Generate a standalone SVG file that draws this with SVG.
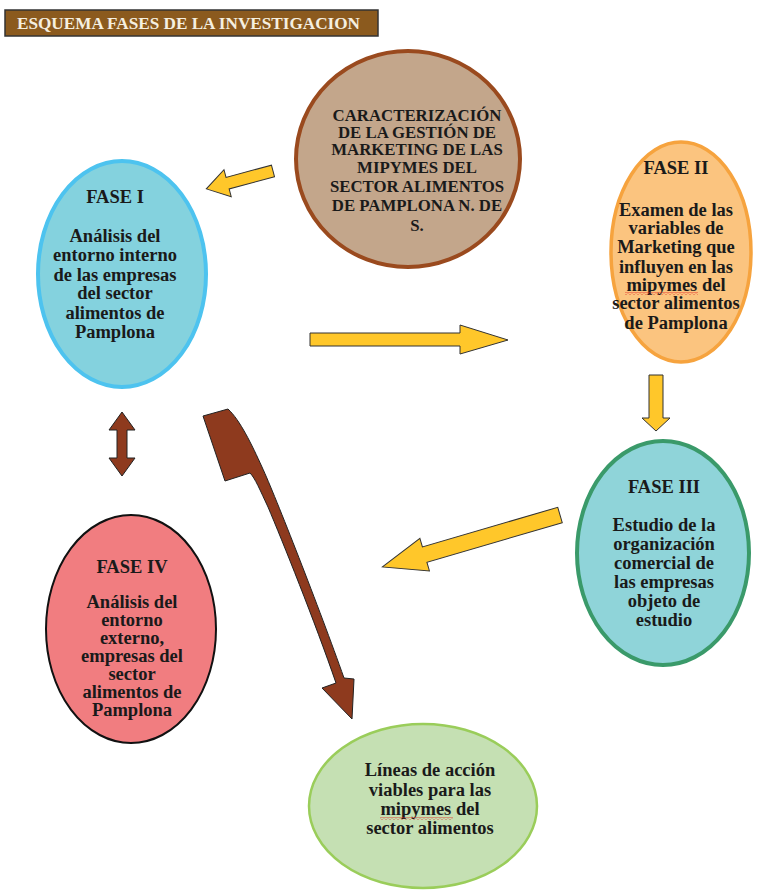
<svg xmlns="http://www.w3.org/2000/svg" width="765" height="890" viewBox="0 0 765 890">
<style>
.t{font-family:"Liberation Serif","Times New Roman",serif;font-weight:bold;font-size:18.5px;fill:#1a1a1a;text-anchor:middle}
.c{font-size:16.8px}
.y{fill:#FFC72A;stroke:#333;stroke-width:1}
.b{fill:#8E3A1E;stroke:#222;stroke-width:1}
</style>
<defs>
<pattern id="squig" width="4" height="3" patternUnits="userSpaceOnUse">
<path d="M0,2.5 L2,0.5 L4,2.5" fill="none" stroke="#E02020" stroke-width="0.8"/>
</pattern>
</defs>
<rect width="765" height="890" fill="#fff"/>
<g id="title">
<rect x="5" y="10" width="373" height="26" fill="#8B5A1E" stroke="#333" stroke-width="1.5"/>
<text x="17" y="29" font-family="Liberation Serif,serif" font-weight="bold" font-size="16" fill="#F5EFE0" textLength="343" lengthAdjust="spacingAndGlyphs">ESQUEMA FASES DE LA INVESTIGACION</text>
</g>
<g id="connectors">
<polygon class="y" points="0,-6 47,-6 47,-14 69,0 47,14 47,6 0,6" transform="translate(273,171) rotate(165)"/>
<polygon class="y" points="310,333 460,333 460,325 508,340 460,354 460,346 310,346"/>
<polygon class="y" points="649,375 663,375 663,418 670,418 656,431 642,418 649,418"/>
<polygon class="y" points="0,-8 141,-8 141,-17 185,0 141,17 141,8 0,8" transform="translate(560,515) rotate(163.7)"/>
<polygon class="b" points="122,412 135,430 127,430 127,458 135,458 122,476 109,458 117,458 117,430 109,430"/>
<path class="b" d="M203,416 L228,409 C240,420 252,445 262,467 C275,495 320,610 344,678 L354,679 L352,719 L322,688 L336,683 C315,622 282,540 268,507 C260,490 255,478 250,473 L225,481 Z"/>
</g>
<g id="center">
<ellipse cx="408" cy="159" rx="112" ry="108" fill="#C3A68B" stroke="#9A4A1E" stroke-width="4"/>
<text class="t c"><tspan x="417" y="121">CARACTERIZACIÓN</tspan><tspan x="417" y="138">DE LA GESTIÓN DE</tspan><tspan x="417" y="155">MARKETING DE LAS</tspan><tspan x="417" y="173">MIPYMES DEL</tspan><tspan x="417" y="192">SECTOR ALIMENTOS</tspan><tspan x="417" y="211">DE PAMPLONA N. DE</tspan><tspan x="417" y="231">S.</tspan></text>
</g>
<g id="fase1">
<ellipse cx="122" cy="274" rx="84" ry="113" fill="#84D2DE" stroke="#4DC3EF" stroke-width="4"/>
<text class="t"><tspan x="115" y="203">FASE I</tspan><tspan x="115" y="242">Análisis del</tspan><tspan x="115" y="261">entorno interno</tspan><tspan x="115" y="281">de las empresas</tspan><tspan x="115" y="299">del sector</tspan><tspan x="115" y="319">alimentos de</tspan><tspan x="115" y="338">Pamplona</tspan></text>
</g>
<g id="fase2">
<ellipse cx="681" cy="252" rx="70" ry="110" fill="#FBC47F" stroke="#F6A33E" stroke-width="3.5"/>
<text class="t"><tspan x="676" y="174">FASE II</tspan><tspan x="676" y="216">Examen de las</tspan><tspan x="676" y="234">variables de</tspan><tspan x="676" y="253">Marketing que</tspan><tspan x="676" y="273">influyen en las</tspan><tspan x="676" y="291">mipymes del</tspan><tspan x="676" y="309">sector alimentos</tspan><tspan x="676" y="329">de Pamplona</tspan></text>
<rect x="625" y="292" width="73" height="3" fill="url(#squig)"/>
</g>
<g id="fase3">
<ellipse cx="663" cy="553" rx="86" ry="112" fill="#8FD4D9" stroke="#3A9A6A" stroke-width="4"/>
<text class="t"><tspan x="664" y="493">FASE III</tspan><tspan x="664" y="531">Estudio de la</tspan><tspan x="664" y="550">organización</tspan><tspan x="664" y="569">comercial de</tspan><tspan x="664" y="588">las empresas</tspan><tspan x="664" y="607">objeto de</tspan><tspan x="664" y="626">estudio</tspan></text>
</g>
<g id="fase4">
<ellipse cx="131" cy="629" rx="85" ry="114" fill="#F17D80" stroke="#111" stroke-width="2"/>
<text class="t"><tspan x="132" y="573">FASE IV</tspan><tspan x="132" y="608">Análisis del</tspan><tspan x="132" y="626">entorno</tspan><tspan x="132" y="644">externo,</tspan><tspan x="132" y="662">empresas del</tspan><tspan x="132" y="680">sector</tspan><tspan x="132" y="698">alimentos de</tspan><tspan x="132" y="716">Pamplona</tspan></text>
</g>
<g id="lineas">
<ellipse cx="423" cy="806" rx="114" ry="82" fill="#C5E0B3" stroke="#9ACD5A" stroke-width="2.5"/>
<text class="t"><tspan x="430" y="776">Líneas de acción</tspan><tspan x="430" y="796">viables para las</tspan><tspan x="430" y="815">mipymes del</tspan><tspan x="430" y="834">sector alimentos</tspan></text>
<rect x="380" y="817" width="73" height="3" fill="url(#squig)"/>
</g>
</svg>
